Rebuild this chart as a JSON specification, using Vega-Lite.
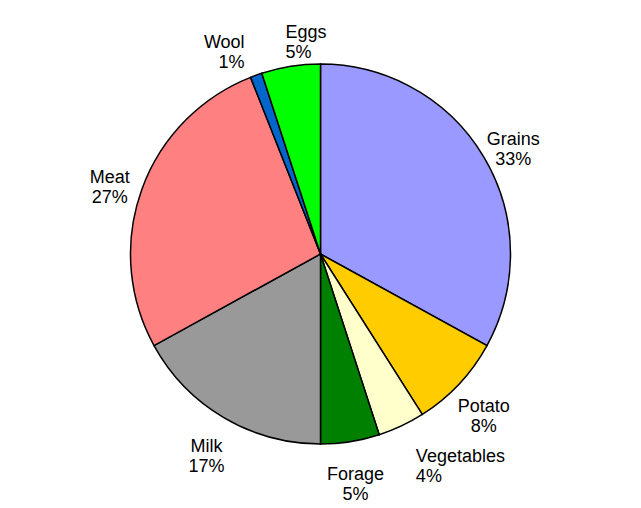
{
  "$schema": "https://vega.github.io/schema/vega-lite/v6.json",
  "width": 641,
  "height": 508,
  "autosize": {"type": "fit", "contains": "padding"},
  "background": "white",
  "view": {"stroke": null},
  "data": {
    "values": [
      {"category": "Grains", "share": 33, "order": 1, "label": "Grains\n33%"},
      {"category": "Potato", "share": 8, "order": 2, "label": "Potato\n8%"},
      {"category": "Vegetables", "share": 4, "order": 3, "label": "Vegetables\n4%"},
      {"category": "Forage", "share": 5, "order": 4, "label": "Forage\n5%"},
      {"category": "Milk", "share": 17, "order": 5, "label": "Milk\n17%"},
      {"category": "Meat", "share": 27, "order": 6, "label": "Meat\n27%"},
      {"category": "Wool", "share": 1, "order": 7, "label": "Wool\n1%"},
      {"category": "Eggs", "share": 5, "order": 8, "label": "Eggs\n5%"}
    ]
  },
  "encoding": {
    "theta": {"field": "share", "type": "quantitative", "stack": true},
    "order": {"field": "order", "type": "quantitative"}
  },
  "layer": [
    {
      "mark": {"type": "arc", "outerRadius": 190, "stroke": "black", "strokeWidth": 1.5},
      "encoding": {
        "color": {
          "field": "category",
          "type": "nominal",
          "scale": {
            "domain": ["Grains", "Potato", "Vegetables", "Forage", "Milk", "Meat", "Wool", "Eggs"],
            "range": ["#9999FF", "#FFCC00", "#FFFFCC", "#008000", "#999999", "#FF8080", "#0066CC", "#00FF00"]
          },
          "legend": null
        }
      }
    },
    {
      "mark": {
        "type": "text",
        "radius": 224,
        "align": {"expr": "datum.category === 'Wool' ? 'right' : (datum.category === 'Eggs' || datum.category === 'Vegetables') ? 'left' : 'center'"},
        "fontSize": 18,
        "font": "Liberation Sans",
        "lineBreak": "\n",
        "color": "black"
      },
      "encoding": {"text": {"field": "label", "type": "nominal"}}
    }
  ]
}
